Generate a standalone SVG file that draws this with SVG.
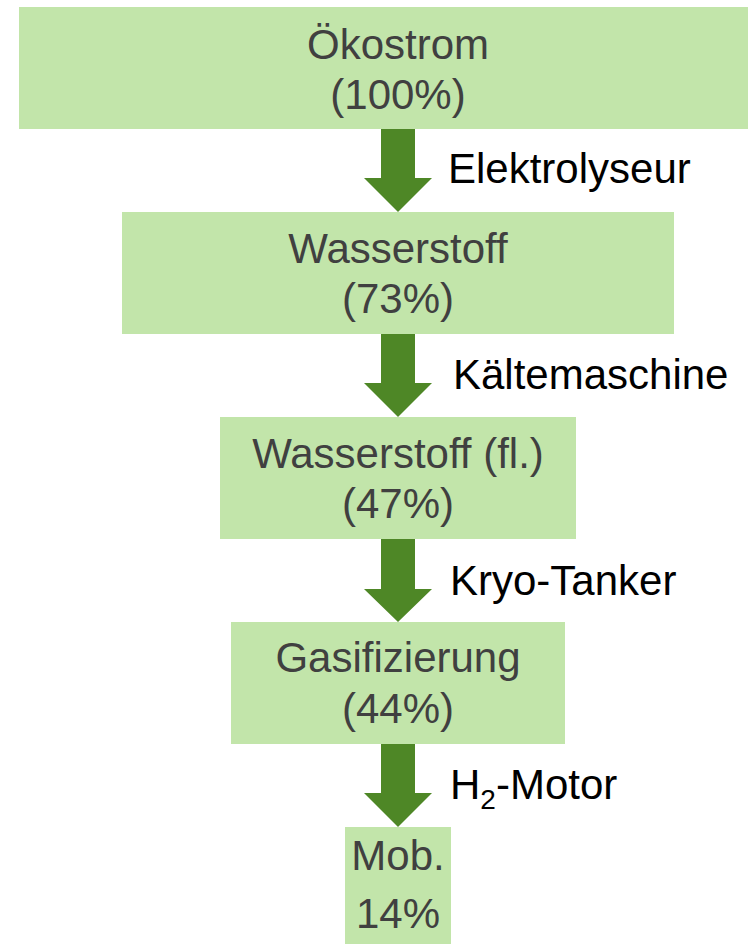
<svg xmlns="http://www.w3.org/2000/svg" width="748" height="944" viewBox="0 0 748 944">
<style>
.box{fill:#C2E5AA;}
.nt{font-family:"Liberation Sans",Arial,sans-serif;font-size:42px;fill:#404040;text-anchor:middle;}
.lt{font-family:"Liberation Sans",Arial,sans-serif;font-size:42px;fill:#000000;}
.arr{fill:#4E8726;}
</style>
<rect width="748" height="944" fill="#ffffff"/>
<g id="connectors">
<path class="arr" d="M381,129 H415 V178 H432 L398,212 L364,178 H381 Z"/>
<path class="arr" d="M381,334 H415 V383 H432 L398,417 L364,383 H381 Z"/>
<path class="arr" d="M381,539 H415 V589 H432 L398,622 L364,589 H381 Z"/>
<path class="arr" d="M381,744 H415 V793 H432 L398,827 L364,793 H381 Z"/>
<text class="lt" x="448" y="183">Elektrolyseur</text>
<text class="lt" x="453" y="389">Kältemaschine</text>
<text class="lt" x="450" y="595">Kryo-Tanker</text>
<text class="lt" x="450" y="799">H<tspan font-size="28px" dy="10">2</tspan><tspan dy="-10">-Motor</tspan></text>
</g>
<g id="oekostrom">
<rect class="box" x="19" y="7" width="760" height="122"/>
<text class="nt" x="398" y="59">Ökostrom</text>
<text class="nt" x="398" y="109">(100%)</text>
</g>
<g id="wasserstoff">
<rect class="box" x="122" y="212" width="552" height="122"/>
<text class="nt" x="398" y="263">Wasserstoff</text>
<text class="nt" x="398" y="313">(73%)</text>
</g>
<g id="wasserstoff-fl">
<rect class="box" x="220" y="417" width="356" height="122"/>
<text class="nt" x="398" y="468">Wasserstoff (fl.)</text>
<text class="nt" x="398" y="518">(47%)</text>
</g>
<g id="gasifizierung">
<rect class="box" x="231" y="622" width="334" height="122"/>
<text class="nt" x="398" y="672">Gasifizierung</text>
<text class="nt" x="398" y="723">(44%)</text>
</g>
<g id="mob">
<rect class="box" x="345" y="827" width="106" height="117"/>
<text class="nt" x="398" y="870" font-size="40px">Mob.</text>
<text class="nt" x="398" y="928" font-size="40px">14%</text>
</g>
</svg>
